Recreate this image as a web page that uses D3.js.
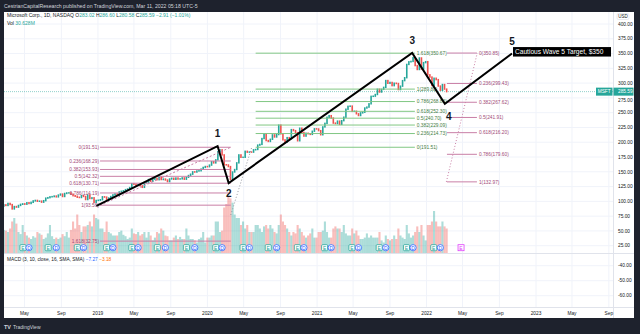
<!DOCTYPE html>
<html><head><meta charset="utf-8">
<script src="https://cdn.jsdelivr.net/npm/d3@7"></script>
<style>
body{margin:0;background:#1e222d;}
svg{display:block;font-family:"Liberation Sans",Arial,sans-serif;}
</style></head>
<body><svg id="c" width="640" height="334"></svg>
<script>
// ---------- DATA ----------
const firstWeek = new Date(2018, 1, 23); // first weekly bar (Friday)
const lastWeek = new Date(2022, 2, 11);
const firstOpen = 92.0;
const close2018 = [94.06,93.05,96.54,94.60,87.18,91.27,90.23,93.08,95.00,95.82,95.16,97.70,96.36,98.36,100.79,101.63,100.13,100.41,98.61,101.16,105.43,106.27,107.68,108.04,109.00,107.58,110.68,112.33,108.21,113.37,114.26,114.37,112.13,109.57,108.66,106.96,106.49,109.57,108.29,103.07,110.89,104.82,106.03,98.23,101.57];
const close2019 = [101.93,102.80,107.71,107.17,102.78,105.67,108.22,110.97,112.53,110.51,115.91,117.05,117.94,119.89,120.95,123.37,129.89,128.90,127.13,128.07,126.24,123.68,131.40,132.45,136.97,133.96,137.46,138.90,136.62,141.34,136.90,137.71,136.13,133.39,137.86,139.10,137.32,139.44,137.73,138.06,139.68,137.41,140.73,143.72,145.96,149.97,149.59,151.38,151.75,154.53,157.41,158.96];
const close2020 = [158.62,161.34,167.10,165.04,170.23,183.89,187.20,178.59,162.01,161.57,158.83,137.35,149.70,153.83,165.14,178.60,174.55,174.57,184.68,183.16,183.51,183.25,187.20,187.74,195.15,196.33,206.26,213.67,202.88,201.30,205.01,212.48,208.90,213.02,228.91,214.25,204.03,200.39,207.82,206.19,221.40,219.66,216.23,202.47,223.72,216.51,210.39,215.23,214.36,213.26,218.59,222.75,222.42];
const close2021 = [219.62,212.65,225.95,231.96,242.20,244.99,240.97,232.38,231.60,235.75,230.35,236.48,242.35,255.85,260.74,261.15,252.18,252.46,248.15,245.17,249.68,250.79,257.89,259.43,265.02,277.65,277.94,280.75,289.67,284.91,289.46,292.85,304.36,299.72,301.14,295.71,299.87,299.35,289.10,294.85,304.21,309.16,331.62,336.06,336.72,343.11,329.68,323.01,342.54,323.80,334.69,336.32];
const close2022 = [314.04,310.20,296.03,308.26,305.94,295.04,287.93,297.66,289.86,285.59];
const vol2018 = [33,32,30,35,45,50,42,30,27,40,30,25,22,20,24,22,30,28,26,20,22,28,40,24,20,22,20,22,27,24,30,22,33,45,35,55,40,30,38,38,40,45,38,55,50];
const vol2019 = [48,35,35,30,45,30,28,25,25,25,30,32,26,24,20,22,35,28,27,30,25,27,30,22,30,25,18,22,30,28,35,32,25,24,18,18,22,25,20,23,20,20,35,25,20,20,18,15,20,22,30,15];
const vol2020 = [22,22,25,25,45,45,30,32,65,70,80,78,72,55,50,50,40,45,35,40,30,30,30,40,40,35,30,38,40,35,40,35,30,28,40,55,45,40,35,30,25,30,28,40,35,30,25,22,25,28,35,22,22];
const vol2021 = [30,30,32,45,30,22,22,35,38,35,35,30,40,28,25,25,35,28,32,25,20,20,22,28,22,25,22,22,22,30,18,15,25,20,18,20,25,20,35,25,22,20,40,28,22,25,30,38,30,40,25,18];
const vol2022 = [40,40,45,60,45,38,38,45,38,35];

const priceTicks = [25,50,75,100,125,150,175,200,225,250,275,300,325,350,375,400];
const macdTicks = [-40,-50,-60];
const lastPrice = 285.59;

const waveDates = ["2018-12-27","2020-02-04","2020-03-12","2021-11-14","2022-03-03","2022-10-13"];
const wavePrices = [92.5,193.5,131,351,265,350];
const waveLabels = ["","1","2","3","4","5"];

const fibLeftLabels = ["0(191.51)","0.236(168.29)","0.382(153.93)","0.5(142.32)","0.618(130.71)","0.786(114.19)","1(93.56)","1.618(32.75)"];
const fibLeftValues = [191.51,168.29,153.93,142.32,130.71,114.19,93.56,32.75];
const fibLeftSpan = ["2019-01-08","2020-03-19"];
const fibMidLabels = ["0(191.51)","0.236(214.73)","0.382(229.09)","0.5(240.70)","0.618(252.30)","0.786(268.83)","1(289.88)","1.618(350.67)"];
const fibMidValues = [191.51,214.73,229.09,240.70,252.30,268.83,289.88,350.67];
const fibMidSpan = ["2020-06-10","2021-11-23"];
const fibRightLabels = ["0(350.85)","0.236(299.43)","0.382(267.62)","0.5(241.91)","0.618(216.20)","0.786(179.60)","1(132.97)"];
const fibRightValues = [350.85,299.43,267.62,241.91,216.20,179.60,132.97];
const fibRightSpan = ["2022-03-10","2022-06-18"];

const earningsDates = ["2018-04-26","2018-07-19","2018-10-24","2019-01-30","2019-04-24","2019-07-18","2019-10-23","2020-01-29","2020-04-29","2020-07-22","2020-10-27","2021-01-26","2021-04-27","2021-07-27","2021-10-26","2022-01-25"];
const dividendDates = ["2018-05-16","2018-08-15","2018-11-14","2019-02-20","2019-05-15","2019-08-14","2019-11-20","2020-02-19","2020-05-20","2020-08-19","2020-11-18","2021-02-17","2021-05-19","2021-08-18","2021-11-17","2022-02-16"];
const nextEarnings = "2022-04-26";

// ---------- SETUP ----------
const parse = d3.utcParse("%Y-%m-%d");
const P = s => { const d = parse(s); return new Date(d.getUTCFullYear(), d.getUTCMonth(), d.getUTCDate()); };
const closes = close2018.concat(close2019, close2020, close2021, close2022);
const vols = vol2018.concat(vol2019, vol2020, vol2021, vol2022);
const fridays = d3.timeFriday.range(firstWeek, d3.timeDay.offset(lastWeek, 1));
const bars = closes.map((c, i) => ({
  date: d3.timeDay.offset(fridays[i], -2),
  open: i === 0 ? firstOpen : closes[i - 1],
  close: c,
  vol: vols[i]
}));

const svg = d3.select("#c");
const L = 4, R = 613, T = 12, PANE = 253, XAX = 307, B = 318, RE = 634;
const x = d3.scaleTime().domain([new Date(2018,0,1), new Date(2023,0,1)]).range([-11.5, 536]);
const y = d3.scaleLinear().domain([25, 400]).range([245.7, 24]);
const yM = d3.scaleLinear().domain([-60, -40]).range([295.7, 265.7]);
const yV = d3.scaleLinear().domain([0, 100]).range([PANE, PANE - 70]);

const UP = "#26a69a", DN = "#ef5350", TXT = "#131722";

// background
svg.append("rect").attr("x", 0).attr("y", 0).attr("width", 640).attr("height", 334).attr("fill", "#1e222d");
svg.append("rect").attr("x", L).attr("y", T).attr("width", RE - L).attr("height", B - T).attr("fill", "#fff");

svg.append("text").attr("x", 4).attr("y", 7.5).attr("fill", "#d1d4dc").attr("font-size", 5.2)
  .text("CestrianCapitalResearch published on TradingView.com, Mar 11, 2022 05:18 UTC-5");

const clip = svg.append("defs").append("clipPath").attr("id", "pc");
clip.append("rect").attr("x", L).attr("y", T).attr("width", R - L).attr("height", XAX - T);

// gridlines
const xTicks = d3.timeMonth.every(4).range(new Date(2018,4,1), new Date(2023,9,2));
const grid = svg.append("g").attr("clip-path", "url(#pc)");
grid.selectAll("line.v").data(xTicks).join("line")
  .attr("x1", d => x(d)).attr("x2", d => x(d)).attr("y1", T).attr("y2", XAX)
  .attr("stroke", "#f0f3fa").attr("stroke-width", 1);
grid.selectAll("line.h").data(priceTicks).join("line")
  .attr("x1", L).attr("x2", R).attr("y1", d => y(d)).attr("y2", d => y(d))
  .attr("stroke", "#f0f3fa");
grid.selectAll("line.m").data(macdTicks).join("line")
  .attr("x1", L).attr("x2", R).attr("y1", d => yM(d)).attr("y2", d => yM(d))
  .attr("stroke", "#f0f3fa");

// separators
svg.append("line").attr("x1", L).attr("x2", RE).attr("y1", PANE + 0.5).attr("y2", PANE + 0.5).attr("stroke", "#e0e3eb");
svg.append("line").attr("x1", L).attr("x2", RE).attr("y1", XAX + 0.5).attr("y2", XAX + 0.5).attr("stroke", "#e0e3eb");
svg.append("line").attr("x1", R + 0.5).attr("x2", R + 0.5).attr("y1", T).attr("y2", B).attr("stroke", "#e0e3eb");

const plot = svg.append("g").attr("clip-path", "url(#pc)");

// volume
const bw = 2.1;
plot.selectAll("rect.vol").data(bars).join("rect")
  .attr("x", d => x(d.date) - bw / 2).attr("width", bw)
  .attr("y", d => yV(d.vol)).attr("height", d => PANE - yV(d.vol))
  .attr("fill", d => d.close >= d.open ? UP : DN).attr("opacity", 0.38);

// last price line
plot.append("line").attr("x1", L).attr("x2", R).attr("y1", y(lastPrice)).attr("y2", y(lastPrice))
  .attr("stroke", UP).attr("stroke-opacity", 0.5).attr("stroke-dasharray", "1,1");

// candles
plot.selectAll("rect.c").data(bars).join("rect")
  .attr("x", d => x(d.date) - 0.8).attr("width", 1.6)
  .attr("y", d => y(Math.max(d.open, d.close)) - 0.7)
  .attr("height", d => Math.abs(y(d.open) - y(d.close)) + 1.4)
  .attr("fill", d => d.close >= d.open ? UP : DN);

// earnings / dividends markers
const mk = svg.append("g");
const mkY = 247.7;
earningsDates.forEach(s => {
  const g = mk.append("g").attr("transform", `translate(${x(P(s))},${mkY})`);
  g.append("rect").attr("x", -3).attr("y", -3).attr("width", 6).attr("height", 6).attr("rx", 1)
    .attr("fill", "#fff").attr("stroke", UP).attr("stroke-width", 0.8);
  g.append("text").attr("text-anchor", "middle").attr("y", 1.8).attr("font-size", 5).attr("fill", UP).text("E");
});
dividendDates.forEach(s => {
  const g = mk.append("g").attr("transform", `translate(${x(P(s))},${mkY})`);
  g.append("circle").attr("r", 3.1).attr("fill", "#fff").attr("stroke", "#2962ff").attr("stroke-width", 0.8);
  g.append("text").attr("text-anchor", "middle").attr("y", 1.8).attr("font-size", 5).attr("fill", "#2962ff").text("D");
});
{
  const g = mk.append("g").attr("transform", `translate(${x(P(nextEarnings))},${mkY})`);
  g.append("rect").attr("x", -3).attr("y", -3).attr("width", 6).attr("height", 6)
    .attr("fill", "#fff").attr("stroke", "#e040fb").attr("stroke-width", 0.8);
  g.append("text").attr("text-anchor", "middle").attr("y", 1.8).attr("font-size", 5).attr("fill", "#e040fb").text("E");
}

// fib sets
const PINK = "#c97fa6", PINKT = "#a24a78", GRN = "#81c784", GRNT = "#3f7d43";
function fib(values, labels, span, stroke, tcol, side) {
  const g = svg.append("g");
  const x1 = x(P(span[0])), x2 = x(P(span[1]));
  values.forEach((v, i) => {
    g.append("line").attr("x1", x1).attr("x2", x2).attr("y1", y(v)).attr("y2", y(v))
      .attr("stroke", stroke).attr("stroke-width", 1);
    g.append("text").attr("x", side === "left" ? x1 - 1 : x2 + 2).attr("y", y(v) + 1.7)
      .attr("text-anchor", side === "left" ? "end" : "start")
      .attr("font-size", 4.8).attr("fill", tcol).text(labels[i]);
  });
  return g;
}
fib(fibLeftValues, fibLeftLabels, fibLeftSpan, PINK, PINKT, "left");
fib(fibMidValues, fibMidLabels, fibMidSpan, GRN, GRNT, "right");
fib(fibRightValues, fibRightLabels, fibRightSpan, PINK, PINKT, "right");

// dashed trend lines of fib tools
svg.append("line").attr("x1", x(P(fibLeftSpan[0]))).attr("y1", y(93.56))
  .attr("x2", x(P(fibLeftSpan[1]))).attr("y2", y(191.51))
  .attr("stroke", PINK).attr("stroke-dasharray", "2,2");
svg.append("line").attr("x1", x(P("2020-03-19"))).attr("y1", y(77))
  .attr("x2", x(P("2020-05-28"))).attr("y2", y(191.51))
  .attr("stroke", "#9598a1").attr("stroke-dasharray", "1,2");
svg.append("line").attr("x1", x(P("2022-03-08"))).attr("y1", y(132.97))
  .attr("x2", x(P("2022-06-19"))).attr("y2", y(350.85))
  .attr("stroke", PINK).attr("stroke-dasharray", "1,2");

// wave path
const wave = waveDates.map((d, i) => ({ d: P(d), p: wavePrices[i], l: waveLabels[i] }));
svg.append("path").datum(wave)
  .attr("d", d3.line().x(d => x(d.d)).y(d => y(d.p)))
  .attr("fill", "none").attr("stroke", "#000").attr("stroke-width", 2).attr("stroke-linejoin", "miter");
const lblDy = [0, -9, 14, -9, 16, -9];
const lblDx = [0, 0, 0, 0, 4, 0];
svg.selectAll("text.w").data(wave).join("text")
  .attr("x", (d, i) => x(d.d) + lblDx[i]).attr("y", (d, i) => y(d.p) + lblDy[i])
  .attr("text-anchor", "middle").attr("font-size", 10).attr("font-weight", "bold").attr("fill", "#131722")
  .text(d => d.l);

// target callout
{
  const tx = x(wave[5].d) + 1, ty = y(wave[5].p);
  svg.append("rect").attr("x", tx).attr("y", ty - 6.5).attr("width", 98).attr("height", 9.5).attr("fill", "#000");
  svg.append("text").attr("x", tx + 2).attr("y", ty + 0.8).attr("font-size", 6.6).attr("fill", "#fff")
    .text("Cautious Wave 5 Target, $350");
}

// right axis
const ax = svg.append("g").attr("font-size", 4.8).attr("fill", TXT);
ax.selectAll("text.p").data(priceTicks.filter(d => d !== 275)).join("text")
  .attr("x", 618).attr("y", d => y(d) + 1.7).text(d => d.toFixed(2));
ax.selectAll("text.m").data(macdTicks).join("text")
  .attr("x", 618).attr("y", d => yM(d) + 1.7).text(d => d.toFixed(2));
svg.append("rect").attr("x", 617).attr("y", 13.5).attr("width", 12).attr("height", 6).attr("rx", 1.5)
  .attr("fill", "#fff").attr("stroke", "#d1d4dc").attr("stroke-width", 0.5);
svg.append("text").attr("x", 623).attr("y", 18).attr("text-anchor", "middle").attr("font-size", 4.5).attr("fill", TXT).text("USD");
svg.append("text").attr("x", 618).attr("y", y(275) + 4.5).attr("font-size", 4.8).attr("fill", TXT).text("275.00");

// price tag
{
  const py = y(lastPrice);
  svg.append("rect").attr("x", 596).attr("y", py - 4).attr("width", 16.5).attr("height", 8).attr("fill", UP);
  svg.append("text").attr("x", 604.2).attr("y", py + 1.7).attr("text-anchor", "middle").attr("font-size", 4.8).attr("fill", "#fff").text("MSFT");
  svg.append("rect").attr("x", 613.5).attr("y", py - 4).attr("width", 20).attr("height", 8).attr("fill", UP);
  svg.append("text").attr("x", 618).attr("y", py + 1.7).attr("font-size", 4.8).attr("fill", "#fff").text(lastPrice.toFixed(2));
}

// bottom axis
const fmt = d => d.getMonth() === 0 ? d3.timeFormat("%Y")(d) : d3.timeFormat("%b")(d);
svg.append("g").selectAll("text").data(xTicks).join("text")
  .attr("x", d => x(d)).attr("y", 315).attr("text-anchor", "middle")
  .attr("font-size", 4.8).attr("fill", TXT).text(fmt);

// legend
const lg = svg.append("text").attr("x", 7).attr("y", 17).attr("font-size", 5).attr("fill", TXT);
lg.append("tspan").text("Microsoft Corp., 1D, NASDAQ  ");
[["O","283.02"],["H","286.60"],["L","280.58"],["C","285.59"]].forEach(([k,v]) => {
  lg.append("tspan").text(" " + k);
  lg.append("tspan").attr("fill", UP).text(v);
});
lg.append("tspan").attr("fill", UP).text("  −2.91 (−1.01%)");
const vl = svg.append("text").attr("x", 7).attr("y", 24.5).attr("font-size", 5).attr("fill", TXT);
vl.append("tspan").text("Vol  ");
vl.append("tspan").attr("fill", UP).text("30.628M");

const md = svg.append("text").attr("x", 7).attr("y", 261).attr("font-size", 4.8).attr("fill", TXT);
md.append("tspan").text("MACD (3, 10, close, 16, SMA, SMA)  ");
md.append("tspan").attr("fill", "#2962ff").text("−7.27  ");
md.append("tspan").attr("fill", "#ff6d00").text("−3.18");

// footer
svg.append("text").attr("x", 4).attr("y", 328.5).attr("font-size", 5.5).attr("font-weight", "bold").attr("fill", "#d1d4dc").text("TV");
svg.append("text").attr("x", 13).attr("y", 328.5).attr("font-size", 5).attr("fill", "#d1d4dc").text("TradingView");
</script></body></html>
